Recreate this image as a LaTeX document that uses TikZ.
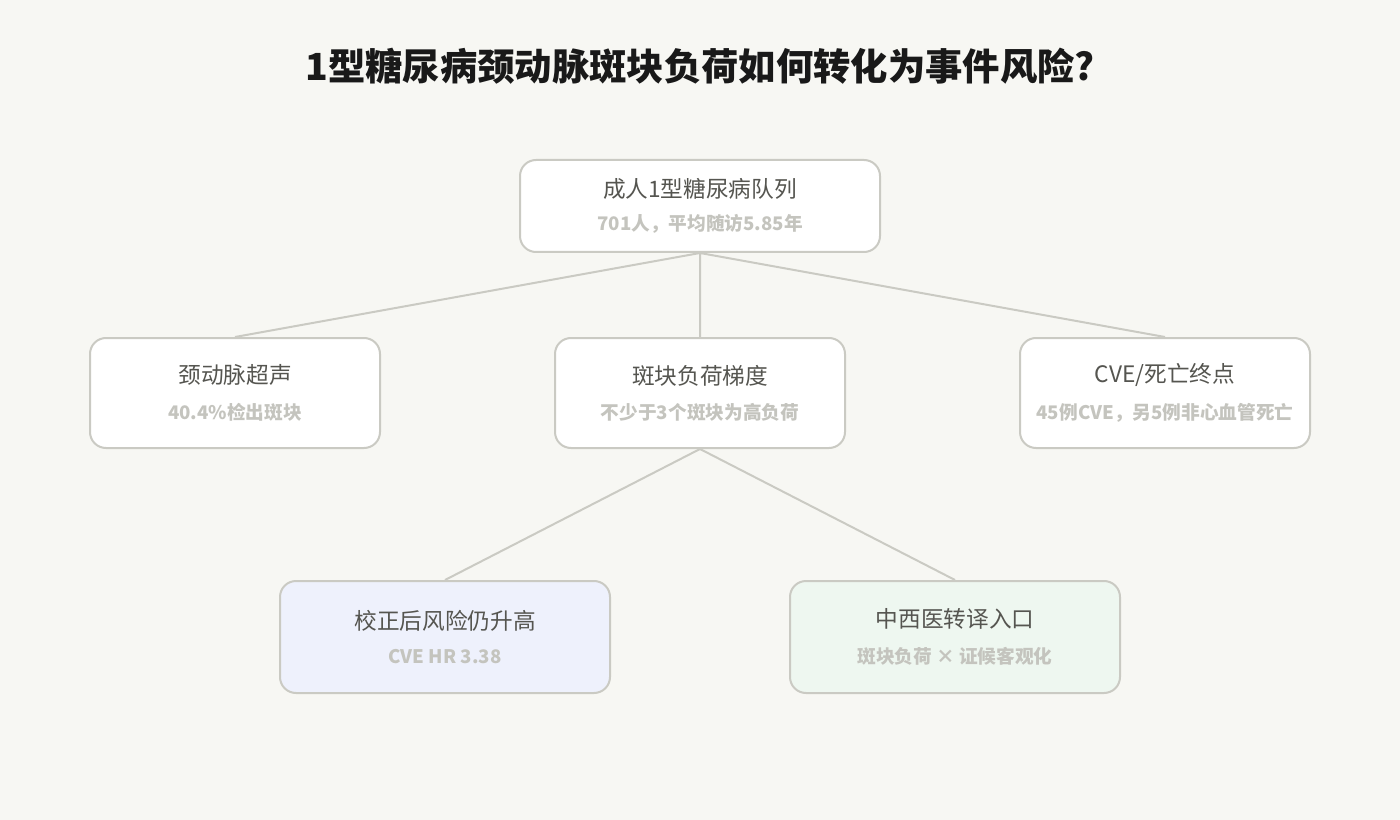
\documentclass[tikz,border=0pt]{standalone}
\usepackage{fontspec}
\setmainfont{Noto Sans CJK SC}
\usepackage{tikz}
\usetikzlibrary{positioning}
\definecolor{bg}{HTML}{F7F7F3}
\definecolor{edgegray}{HTML}{CACAC3}
\definecolor{maintext}{HTML}{555550}
\definecolor{subtext}{HTML}{C4C4BE}
\definecolor{bluefill}{HTML}{EEF1FC}
\definecolor{greenfill}{HTML}{EEF7F0}
\begin{document}
\begin{tikzpicture}[x=0.75pt, y=-0.75pt, line width=1.5pt, box/.style={draw=edgegray, fill=white, rounded corners=12pt, minimum width=290*0.75pt, minimum height=110*0.75pt, align=center, inner sep=0pt}, link/.style={draw=edgegray, line width=1.5pt}]
        \fill[bg] (0,0) rectangle (1400,820);
        \useasboundingbox (0,0) rectangle (1400,820);
        \node[font=\bfseries\fontsize{28}{32}\selectfont, text=black!90] (title) at (700,66) {1型糖尿病颈动脉斑块负荷如何转化为事件风险?};

        \node[box, minimum width=360*0.75pt, minimum height=92*0.75pt] (cohort) at (700,206) {{\fontsize{17}{22}\selectfont\color{maintext}成人1型糖尿病队列}\\[10pt]{\bfseries\fontsize{14}{18}\selectfont\color{subtext}701人，平均随访5.85年}};
        \node[box] (ultra) at (235,393) {{\fontsize{17}{22}\selectfont\color{maintext}颈动脉超声}\\[12pt]{\bfseries\fontsize{14}{18}\selectfont\color{subtext}40.4\%检出斑块}};
        \node[box] (grad) at (700,393) {{\fontsize{17}{22}\selectfont\color{maintext}斑块负荷梯度}\\[12pt]{\bfseries\fontsize{14}{18}\selectfont\color{subtext}不少于3个斑块为高负荷}};
        \node[box] (cve) at (1165,393) {{\fontsize{17}{22}\selectfont\color{maintext}CVE/死亡终点}\\[12pt]{\bfseries\fontsize{14}{18}\selectfont\color{subtext}45例CVE，另5例非心血管死亡}};
        \node[box, fill=bluefill, minimum width=330*0.75pt, minimum height=112*0.75pt] (risk) at (445,637) {{\fontsize{17}{22}\selectfont\color{maintext}校正后风险仍升高}\\[12pt]{\bfseries\fontsize{14}{18}\selectfont\color{subtext}CVE HR 3.38}};
        \node[box, fill=greenfill, minimum width=330*0.75pt, minimum height=112*0.75pt] (tcm) at (955,637) {{\fontsize{17}{22}\selectfont\color{maintext}中西医转译入口}\\[12pt]{\bfseries\fontsize{14}{18}\selectfont\color{subtext}斑块负荷 × 证候客观化}};

        \path[link] (cohort.south) -- (ultra.north)
              (cohort.south) -- (grad.north)
              (cohort.south) -- (cve.north)
              (grad.south) -- (risk.north)
              (grad.south) -- (tcm.north);
    \end{tikzpicture}
\end{document}
